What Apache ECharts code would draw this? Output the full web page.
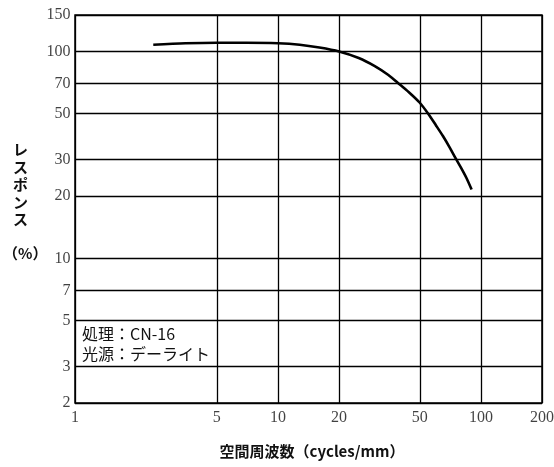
<!DOCTYPE html>
<html><head><meta charset="utf-8">
<script src="https://cdn.jsdelivr.net/npm/echarts@6/dist/echarts.min.js"></script>
<style>html,body{margin:0;padding:0;background:#fff}#c{width:554px;height:467px}</style>
</head><body><div id="c"></div>
<script>
var freqTicks = [1, 5, 10, 20, 50, 100, 200];
var respTicks = [2, 3, 5, 7, 10, 20, 30, 50, 70, 100, 150];
var freq = [2.43, 3.5, 5, 7, 10, 12.8, 16, 20, 25, 30, 35, 40, 45, 50, 55, 60, 65, 70, 75, 80, 85, 90];
var resp = [107.8, 109.5, 110.2, 110.2, 109.6, 107.8, 104.5, 100, 93, 85, 77, 69, 62.5, 56.5, 50, 44, 39, 34.5, 30.5, 27.3, 24.4, 21.5];
var notes = ['処理：CN-16', '光源：デーライト'];

var serif = 'Liberation Serif';
var xMin = 1, yMin = 2;

var chart = echarts.init(document.getElementById('c'));
chart.setOption({
  animation: false,
  grid: {left: 75, right: 12, top: 15, bottom: 64, show: true, borderColor: '#000', borderWidth: 1.5},
  xAxis: {type: 'log', min: xMin, max: 200, logBase: 10,
    axisLine: {show: false}, axisTick: {show: false}, axisLabel: {show: false}, splitLine: {show: false}},
  yAxis: {type: 'log', min: yMin, max: 150, logBase: 10,
    axisLine: {show: false}, axisTick: {show: false}, axisLabel: {show: false}, splitLine: {show: false}},
  series: [{
    type: 'line',
    data: freq.map(function (f, i) { return [f, resp[i]]; }),
    smooth: 0.3,
    symbol: 'none',
    lineStyle: {color: '#000', width: 2.6},
    z: 5,
    markLine: {
      silent: true, symbol: 'none', animation: false,
      label: {show: false},
      lineStyle: {color: '#000', width: 1.3, type: 'solid'},
      data: freqTicks.map(function (v) { return {xAxis: v}; })
        .concat(respTicks.map(function (v) { return {yAxis: v}; }))
    }
  }, {
    type: 'scatter', clip: false, silent: true, symbolSize: 1, itemStyle: {color: 'rgba(0,0,0,0)'},
    data: freqTicks.map(function (v) { return [v, yMin]; }),
    label: {show: true, position: 'bottom', distance: 6, color: '#111', fontFamily: serif, fontSize: 16,
      formatter: function (p) { return String(p.value[0]); }}
  }, {
    type: 'scatter', clip: false, silent: true, symbolSize: 1, itemStyle: {color: 'rgba(0,0,0,0)'},
    data: respTicks.map(function (v) { return [xMin, v]; }),
    label: {show: true, position: 'left', distance: 4, color: '#111', fontFamily: serif, fontSize: 16,
      formatter: function (p) { return String(p.value[1]); }}
  }],
  graphic: [
    {type: 'text', left: 82, top: 324, style: {text: notes.join('\n'), font: '16px "Noto Sans CJK JP"', lineHeight: 20, fill: '#111'}},
    {type: 'text', left: 13, top: 141, style: {text: 'レ\nス\nポ\nン\nス', font: 'bold 15px "Noto Sans CJK JP"', lineHeight: 17.5, fill: '#111'}},
    {type: 'text', left: 3, top: 246, style: {text: '（%）', font: 'bold 15px "Noto Sans CJK JP"', fill: '#111'}},
    {type: 'text', x: 312, y: 451, style: {text: '空間周波数（cycles/mm）', font: 'bold 15px "Noto Sans CJK JP"', fill: '#111', align: 'center', verticalAlign: 'middle'}}
  ]
});
</script></body></html>
